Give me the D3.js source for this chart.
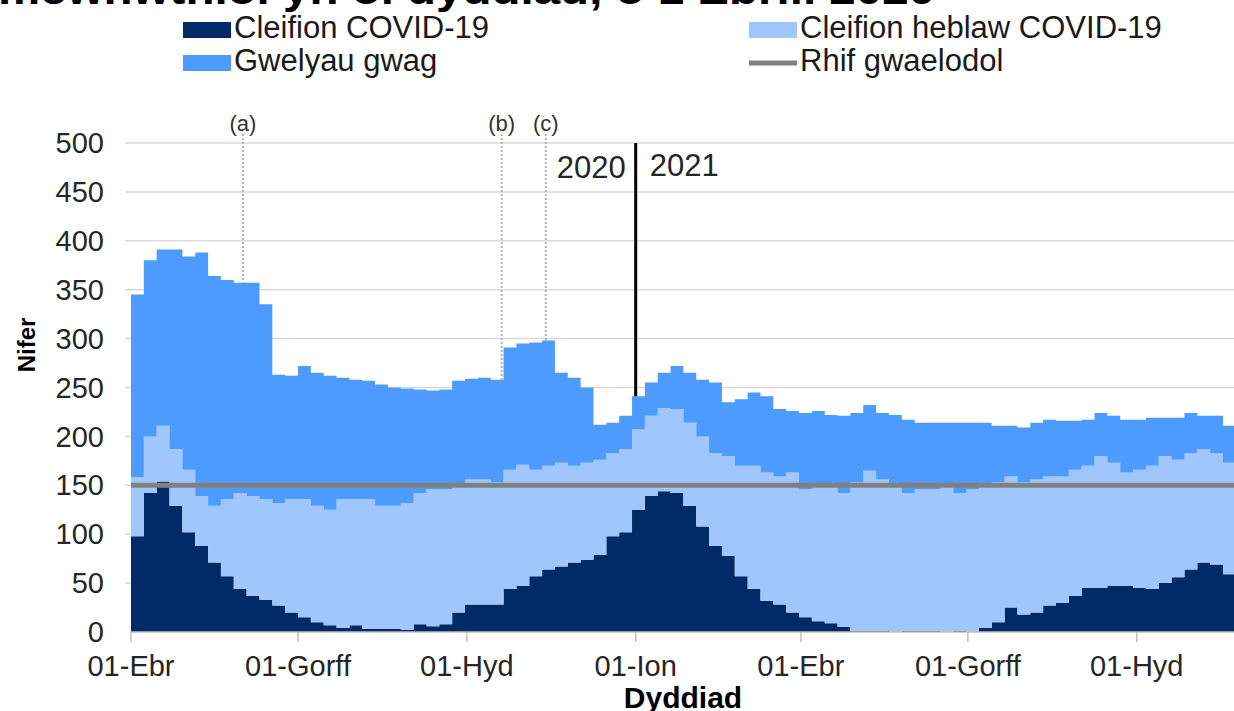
<!DOCTYPE html>
<html>
<head>
<meta charset="utf-8">
<script src="https://cdn.jsdelivr.net/npm/d3@7.9.0/dist/d3.min.js"></script>
<style>
  body { margin: 0; background: #fff; }
  svg { display: block; font-family: Arial, "Liberation Sans", sans-serif; }
</style>
</head>
<body>
<svg id="chart" width="1234" height="711"></svg>
<script>
// weekly readings, starting 1 April 2020
const startDate = new Date(Date.UTC(2020, 3, 1));
const covid = [98, 142, 154, 129, 102, 88, 71, 57, 44, 37, 33, 27, 20, 15, 10, 7, 4, 7, 3, 3, 3, 2, 8, 6, 8, 20, 28, 28, 28, 44,
  47, 57, 64, 67, 71, 74, 79, 98, 102, 125, 139, 144, 142, 129, 108, 88, 78, 57, 44, 32, 28, 20, 15, 11, 9, 5, 1, 1, 1, 0,
  1, 1, 1, 0, 1, 0, 4, 10, 25, 18, 20, 27, 30, 37, 45, 45, 47, 47, 45, 44, 50, 56, 64, 71, 69, 59, 54];
const nonCovid = [60, 58, 57, 58, 64, 51, 58, 79, 98, 102, 103, 105, 116, 121, 119, 118, 132, 129, 133, 126, 126, 130, 134, 140, 138, 129, 128, 128, 125, 122,
  124, 109, 106, 106, 99, 99, 97, 85, 85, 82, 82, 85, 86, 85, 92, 95, 102, 113, 126, 131, 131, 143, 131, 137, 140, 137, 152, 164, 155, 149,
  141, 145, 145, 149, 141, 146, 144, 143, 134, 135, 136, 132, 129, 129, 125, 135, 126, 116, 121, 126, 130, 120, 119, 116, 114, 114, 129];
const emptyBeds = [187, 180, 180, 204, 218, 249, 235, 224, 215, 218, 199, 131, 126, 136, 136, 137, 124, 122, 121, 124, 121, 117, 106, 101, 102, 108, 103, 104, 105, 125,
  124, 130, 128, 92, 90, 77, 36, 31, 34, 34, 34, 36, 44, 51, 58, 72, 55, 68, 75, 78, 69, 63, 78, 78, 73, 79, 71, 67, 68, 73,
  75, 68, 68, 65, 72, 68, 66, 58, 52, 56, 58, 58, 57, 50, 47, 44, 48, 54, 51, 49, 39, 43, 41, 34, 38, 38, 38];
const baselineValue = 150;

const seriesKeys = ['covid', 'nonCovid', 'empty'];
const seriesNames = ['Cleifion COVID-19', 'Cleifion heblaw COVID-19', 'Gwelyau gwag'];
const seriesColors = ['#002b66', '#9fc6fd', '#4e9bff'];

const tickDates = ['2020-04-01', '2020-07-01', '2020-10-01', '2021-01-01', '2021-04-01', '2021-07-01', '2021-10-01'];
const tickLabels = ['01-Ebr', '01-Gorff', '01-Hyd', '01-Ion', '01-Ebr', '01-Gorff', '01-Hyd'];
const noteDates = ['2020-06-01', '2020-10-20', '2020-11-13'];
const noteLabels = ['(a)', '(b)', '(c)'];
const yearBreak = '2021-01-01';

const svg = d3.select('#chart');
const margin = { left: 131, right: 1234, top: 143, bottom: 632 };

const rows = covid.map((c, i) => ({
  date: d3.utcDay.offset(startDate, 7 * i),
  covid: c,
  nonCovid: nonCovid[i],
  empty: emptyBeds[i]
}));

const x = d3.scaleUtc()
  .domain([startDate, new Date(Date.UTC(2021, 10, 23))])
  .range([margin.left, margin.right]);
const y = d3.scaleLinear().domain([0, 500]).range([margin.bottom, margin.top]);

svg.append('defs').append('clipPath').attr('id', 'plot-clip')
  .append('rect')
  .attr('x', margin.left).attr('y', 0)
  .attr('width', margin.right - margin.left).attr('height', margin.bottom);

// title (only its lower part is visible)
svg.append('text')
  .attr('x', -2).attr('y', 4)
  .attr('font-size', 40).attr('font-weight', 'bold')
  .attr('textLength', 937).attr('lengthAdjust', 'spacingAndGlyphs')
  .text('mewnwthiol yn ôl dyddiad, o 1 Ebrill 2020');

// gridlines
const yTicks = d3.range(0, 501, 50);
svg.append('g').selectAll('line')
  .data(yTicks.filter(d => d > 0))
  .join('line')
  .attr('x1', margin.left - 6).attr('x2', margin.right)
  .attr('y1', d => y(d)).attr('y2', d => y(d))
  .attr('stroke', '#d9d9d9').attr('stroke-width', 1.5);

svg.append('g').selectAll('text')
  .data(yTicks)
  .join('text')
  .attr('x', 104).attr('y', d => y(d))
  .attr('dy', '0.35em')
  .attr('text-anchor', 'end')
  .attr('font-size', 29).attr('fill', '#262626')
  .text(d => d);

// stacked areas
const stacked = d3.stack().keys(seriesKeys)(rows);
const area = d3.area()
  .x(d => x(d.data.date))
  .y0(d => y(d[0]))
  .y1(d => y(d[1]))
  .curve(d3.curveStepAfter);

svg.append('g').attr('clip-path', 'url(#plot-clip)')
  .selectAll('path')
  .data(stacked)
  .join('path')
  .attr('fill', (d, i) => seriesColors[i])
  .attr('d', area);

// x axis
svg.append('line')
  .attr('x1', margin.left).attr('x2', margin.right)
  .attr('y1', margin.bottom).attr('y2', margin.bottom)
  .attr('stroke', '#bfbfbf').attr('stroke-width', 1.5);

const xt = svg.append('g').selectAll('g')
  .data(tickDates)
  .join('g')
  .attr('transform', d => `translate(${x(new Date(d))},0)`);
xt.append('line')
  .attr('y1', margin.bottom).attr('y2', margin.bottom + 10)
  .attr('stroke', '#bfbfbf').attr('stroke-width', 1.5);
xt.append('text')
  .attr('y', 676)
  .attr('text-anchor', 'middle')
  .attr('font-size', 29).attr('fill', '#262626')
  .text((d, i) => tickLabels[i]);

// baseline number
svg.append('line')
  .attr('x1', margin.left).attr('x2', margin.right)
  .attr('y1', y(baselineValue)).attr('y2', y(baselineValue))
  .attr('stroke', '#808080').attr('stroke-width', 5);

// stack top at a date
const bisect = d3.bisector(d => d.date).right;
function topAt(date) {
  const r = rows[Math.max(0, bisect(rows, date) - 1)];
  return r.covid + r.nonCovid + r.empty;
}

// note markers
noteDates.forEach((s, i) => {
  const d = new Date(s);
  const px = x(d);
  svg.append('line')
    .attr('x1', px).attr('x2', px)
    .attr('y1', 134).attr('y2', y(topAt(d)))
    .attr('stroke', '#b3b3b3').attr('stroke-width', 2)
    .attr('stroke-dasharray', '2,2');
  svg.append('text')
    .attr('x', px).attr('y', 131)
    .attr('text-anchor', 'middle')
    .attr('font-size', 22).attr('fill', '#333')
    .text(noteLabels[i]);
});

// year break
const yb = new Date(yearBreak);
svg.append('line')
  .attr('x1', x(yb)).attr('x2', x(yb))
  .attr('y1', y(500)).attr('y2', y(topAt(yb)))
  .attr('stroke', '#000').attr('stroke-width', 3);
svg.append('text')
  .attr('x', x(yb) - 10).attr('y', 178)
  .attr('text-anchor', 'end').attr('font-size', 31).attr('fill', '#262626')
  .text('2020');
svg.append('text')
  .attr('x', x(yb) + 14).attr('y', 176)
  .attr('font-size', 31).attr('fill', '#262626')
  .text('2021');

// axis titles
svg.append('text')
  .attr('transform', 'translate(35,345) rotate(-90)')
  .attr('text-anchor', 'middle')
  .attr('font-size', 24).attr('font-weight', 'bold')
  .text('Nifer');
svg.append('text')
  .attr('x', 683).attr('y', 708)
  .attr('text-anchor', 'middle')
  .attr('font-size', 30).attr('font-weight', 'bold')
  .text('Dyddiad');

// legend
const legendItems = [
  { name: seriesNames[0], color: seriesColors[0], x: 183, y: 22, type: 'rect' },
  { name: seriesNames[1], color: seriesColors[1], x: 749, y: 22, type: 'rect' },
  { name: seriesNames[2], color: seriesColors[2], x: 183, y: 55, type: 'rect' },
  { name: 'Rhif gwaelodol', color: '#808080', x: 749, y: 55, type: 'line' }
];
const lg = svg.append('g').selectAll('g')
  .data(legendItems)
  .join('g')
  .attr('transform', d => `translate(${d.x},${d.y})`);
lg.filter(d => d.type === 'rect').append('rect')
  .attr('width', 48).attr('height', 16)
  .attr('fill', d => d.color);
lg.filter(d => d.type === 'line').append('line')
  .attr('x1', 0).attr('x2', 48).attr('y1', 8).attr('y2', 8)
  .attr('stroke', d => d.color).attr('stroke-width', 5);
lg.append('text')
  .attr('x', 51).attr('y', 16)
  .attr('font-size', 31).attr('fill', '#1a1a1a')
  .text(d => d.name);
</script>
</body>
</html>
